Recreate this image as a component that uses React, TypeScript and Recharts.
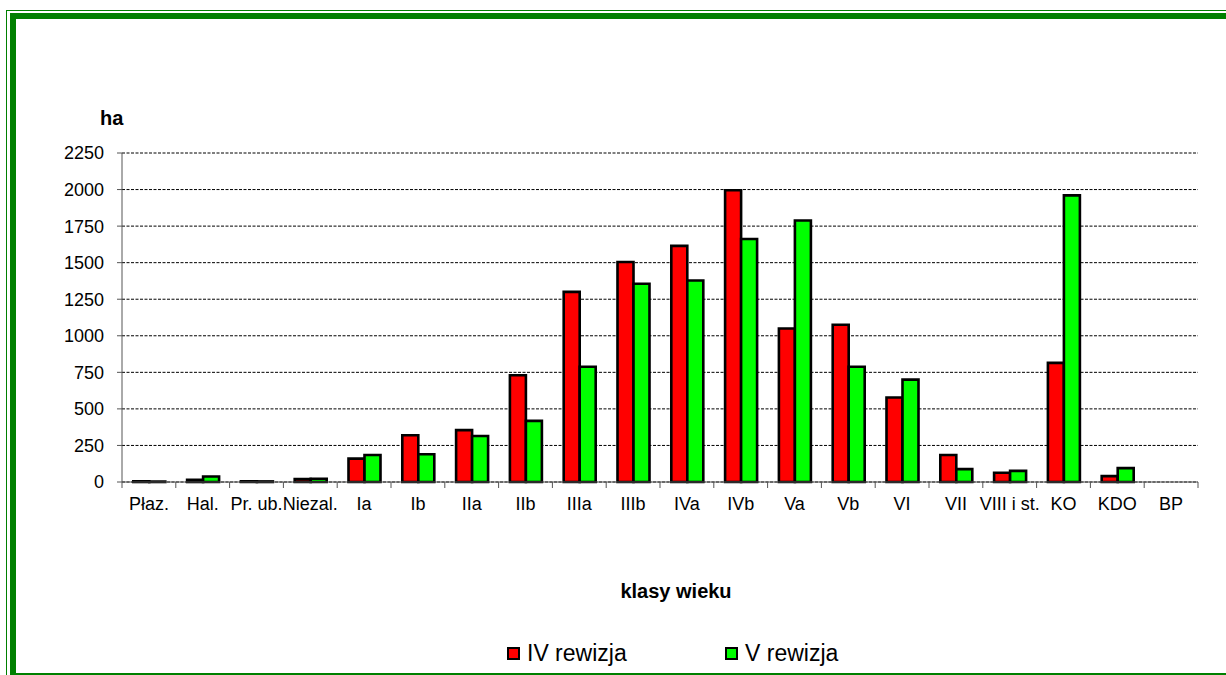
import { Bar, BarChart, CartesianGrid, Legend, XAxis, YAxis } from 'recharts';

// Age-class area comparison between two forest inventory revisions (ha).

const CATEGORIES = [
  'Płaz.', 'Hal.', 'Pr. ub.', 'Niezal.', 'Ia', 'Ib', 'IIa', 'IIb', 'IIIa', 'IIIb',
  'IVa', 'IVb', 'Va', 'Vb', 'VI', 'VII', 'VIII i st.', 'KO', 'KDO', 'BP',
];
const REV_IV = [5, 15, 4, 20, 160, 320, 355, 730, 1300, 1505, 1615, 1995, 1050, 1075, 578, 185, 63, 815, 40, 0];
const REV_V = [3, 38, 4, 22, 185, 190, 315, 418, 788, 1356, 1378, 1662, 1788, 788, 700, 88, 76, 1960, 95, 0];
const Y_TICKS = [0, 250, 500, 750, 1000, 1250, 1500, 1750, 2000, 2250];

const SERIES_IV = 'IV rewizja';
const SERIES_V = 'V rewizja';

const data = CATEGORIES.map((label, i) => ({ label, iv: REV_IV[i], v: REV_V[i] }));

const FONT = 'Arial, "Liberation Sans", sans-serif';
const GREEN = '#008000';

const W = 1226;
const H = 675;
const MARGIN = { top: 153, right: 28, bottom: 153, left: 62 };
const Y_AXIS_W = 60;
const X_AXIS_H = 40;
const PLOT_LEFT = MARGIN.left + Y_AXIS_W;
const PLOT_W = W - PLOT_LEFT - MARGIN.right;
const PLOT_BOTTOM = H - MARGIN.bottom - X_AXIS_H;
const CAT_W = PLOT_W / CATEGORIES.length;

// Excel-style category axis: tick marks sit between categories, labels centred.
function CategoryTick(props: any) {
  const { x, payload, index } = props;
  const left = x - CAT_W / 2;
  const right = x + CAT_W / 2;
  return (
    <g>
      <line x1={left} x2={left} y1={PLOT_BOTTOM} y2={PLOT_BOTTOM + 6} stroke="#555" />
      {index === CATEGORIES.length - 1 && (
        <line x1={right} x2={right} y1={PLOT_BOTTOM} y2={PLOT_BOTTOM + 6} stroke="#555" />
      )}
      <text x={x} y={PLOT_BOTTOM + 28} textAnchor="middle" fontSize={18} fill="#000" fontFamily={FONT}>
        {payload.value}
      </text>
    </g>
  );
}

function RevisionLegend(props: any) {
  const items = props.payload ?? [];
  return (
    <div style={{ display: 'flex', alignItems: 'center', paddingLeft: 507, height: 24, fontFamily: FONT }}>
      {items.map((it: any) => (
        <div key={it.value} style={{ display: 'flex', alignItems: 'center', width: 218 }}>
          <span
            style={{
              width: 9,
              height: 9,
              border: '2px solid #000',
              background: it.color,
              marginRight: 7,
              display: 'inline-block',
            }}
          />
          <span style={{ fontSize: 23, color: '#000', lineHeight: '24px' }}>{it.value}</span>
        </div>
      ))}
    </div>
  );
}

export default function App() {
  return (
    <div
      style={{
        position: 'absolute',
        left: 0,
        top: 0,
        width: W,
        height: H,
        background: '#fff',
        overflow: 'hidden',
        fontFamily: FONT,
      }}
    >
      {/* double green frame */}
      <div style={{ position: 'absolute', left: 6, top: 10, width: 1400, height: 800, borderLeft: `1.5px solid ${GREEN}`, borderTop: `1.5px solid ${GREEN}` }} />
      <div style={{ position: 'absolute', left: 10, top: 13, width: 1400, height: 800, borderLeft: `6px solid ${GREEN}`, borderTop: `6px solid ${GREEN}` }} />
      <div style={{ position: 'absolute', left: 16, top: 673, width: 1400, height: 2, background: GREEN }} />

      <div style={{ position: 'absolute', left: 0, top: 0 }}>
        <BarChart width={W} height={H} data={data} margin={MARGIN} barGap={0} barCategoryGap="21%">
          <CartesianGrid vertical={false} stroke="#000" strokeDasharray="3 1.5" />
          <XAxis
            dataKey="label"
            height={X_AXIS_H}
            interval={0}
            tickLine={false}
            tick={<CategoryTick />}
            axisLine={{ stroke: '#555' }}
          />
          <YAxis
            width={Y_AXIS_W}
            domain={[0, 2250]}
            ticks={Y_TICKS}
            tickSize={5}
            tickMargin={13}
            tick={{ fontSize: 18, fill: '#000', fontFamily: FONT }}
            axisLine={{ stroke: '#555' }}
            tickLine={{ stroke: '#555' }}
          />
          <Legend
            layout="vertical"
            verticalAlign="middle"
            align="center"
            content={<RevisionLegend />}
            wrapperStyle={{ position: 'absolute', left: 0, top: 641, width: W, height: 24 }}
          />
          <Bar dataKey="iv" name={SERIES_IV} fill="#ff0000" stroke="#000" strokeWidth={2.6} isAnimationActive={false} />
          <Bar dataKey="v" name={SERIES_V} fill="#00ff00" stroke="#000" strokeWidth={2.6} isAnimationActive={false} />
        </BarChart>
      </div>

      <div style={{ position: 'absolute', left: 100, top: 108, fontSize: 20, lineHeight: '20px', fontWeight: 'bold' }}>ha</div>
      <div
        style={{
          position: 'absolute',
          left: 576,
          width: 200,
          top: 581,
          textAlign: 'center',
          fontSize: 20,
          lineHeight: '20px',
          fontWeight: 'bold',
        }}
      >
        klasy wieku
      </div>
    </div>
  );
}
